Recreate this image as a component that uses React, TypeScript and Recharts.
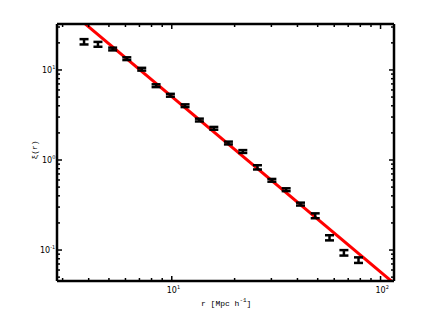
import React from "react";
import {
  ComposedChart,
  ErrorBar,
  Label,
  Line,
  Scatter,
  XAxis,
  YAxis,
} from "recharts";

// separation r [Mpc/h]
const rValues = [
  3.8, 4.43, 5.21, 6.09, 7.18, 8.41, 9.85, 11.58, 13.56, 15.9, 18.68, 21.89,
  25.73, 30.16, 35.31, 41.35, 48.64, 56.96, 66.76, 78.43,
];
// correlation function xi(r)
const xiValues = [
  20.6, 19.3, 17.1, 13.35, 10.2, 6.69, 5.24, 4.01, 2.78, 2.25, 1.545, 1.243,
  0.83, 0.595, 0.468, 0.324, 0.2405, 0.137, 0.0933, 0.0774,
];
const xiErrors = [
  1.4, 1.2, 0.6, 0.47, 0.36, 0.24, 0.19, 0.14, 0.1, 0.08, 0.055, 0.045, 0.045,
  0.021, 0.017, 0.012, 0.015, 0.009, 0.0065, 0.0055,
];

// power-law fit line end points
const fitR = [3.5, 120];
const fitXi = [39.1, 0.04];

const xTicks = [3, 4, 5, 6, 7, 8, 9, 10, 20, 30, 40, 50, 60, 70, 80, 90, 100];
const yTicks = [
  0.05, 0.06, 0.07, 0.08, 0.09, 0.1, 0.2, 0.3, 0.4, 0.5, 0.6, 0.7, 0.8, 0.9, 1,
  2, 3, 4, 5, 6, 7, 8, 9, 10, 20, 30,
];
const xLabelled: Record<number, string> = { 10: "1", 100: "2" };
const yLabelled: Record<number, string> = { 0.1: "-1", 1: "0", 10: "1" };

const points = rValues.map((r, i) => ({ r, xi: xiValues[i], err: xiErrors[i] }));
const fit = fitR.map((r, i) => ({ r, xi: fitXi[i] }));

const tickFont = "DejaVu Sans";
const isMajor = (v: number) => Math.abs(Math.log10(v) - Math.round(Math.log10(v))) < 1e-6;

function BottomTick(props: any) {
  const { x, y, payload } = props;
  const v = payload.value as number;
  const len = isMajor(v) ? 5 : 3;
  const sup = xLabelled[v];
  return (
    <g>
      <line x1={x} x2={x} y1={y} y2={y - len} stroke="#000" strokeWidth={1.5} />
      {sup && (
        <text x={x - 5} y={y + 12} fontSize={8} fontFamily={tickFont} fill="#000">
          10
          <tspan dy={-4} fontSize={5}>{sup}</tspan>
        </text>
      )}
    </g>
  );
}

function TopTick(props: any) {
  const { x, y, payload } = props;
  const len = isMajor(payload.value) ? 5 : 3;
  return <line x1={x} x2={x} y1={y} y2={y + len} stroke="#000" strokeWidth={1.5} />;
}

function LeftTick(props: any) {
  const { x, y, payload } = props;
  const v = payload.value as number;
  const len = isMajor(v) ? 5 : 3;
  const sup = yLabelled[v];
  return (
    <g>
      <line x1={x} x2={x + len} y1={y} y2={y} stroke="#000" strokeWidth={1.5} />
      {sup && (
        <text
          x={sup.length > 1 ? x - 17 : x - 15}
          y={y + 3}
          fontSize={8}
          fontFamily={tickFont}
          fill="#000"
        >
          10
          <tspan dy={-4} fontSize={5}>{sup}</tspan>
        </text>
      )}
    </g>
  );
}

function RightTick(props: any) {
  const { x, y, payload } = props;
  const len = isMajor(payload.value) ? 5 : 3;
  return <line x1={x} x2={x - len} y1={y} y2={y} stroke="#000" strokeWidth={1.5} />;
}

const noDot = () => <g />;

export default function App() {
  return (
    <div style={{ position: "absolute", left: 0, top: 0, background: "#fff" }}>
      <ComposedChart
        width={436}
        height={316}
        margin={{ top: 20, right: 38, bottom: 5, left: 17 }}
      >
        <XAxis
          xAxisId="b"
          dataKey="r"
          type="number"
          scale="log"
          domain={[2.82, 116]}
          allowDataOverflow
          ticks={xTicks}
          tick={<BottomTick />}
          tickLine={false}
          tickSize={0}
          tickMargin={0}
          height={30}
          axisLine={{ stroke: "#000", strokeWidth: 2.5 }}
          interval={0}
        >
          <Label
            content={() => (
              <text x={201} y={306} fontSize={8} fontFamily="Liberation Mono" fill="#000">
                r [Mpc h
                <tspan dy={-4} fontSize={6}>-1</tspan>
                <tspan dy={4}>]</tspan>
              </text>
            )}
          />
        </XAxis>
        <XAxis
          xAxisId="t"
          orientation="top"
          dataKey="r"
          type="number"
          scale="log"
          domain={[2.82, 116]}
          allowDataOverflow
          ticks={xTicks}
          tick={<TopTick />}
          tickLine={false}
          tickSize={0}
          tickMargin={0}
          height={4}
          axisLine={{ stroke: "#000", strokeWidth: 2.5 }}
          interval={0}
        />
        <YAxis
          yAxisId="l"
          type="number"
          scale="log"
          domain={[0.0453, 32.4]}
          allowDataOverflow
          ticks={yTicks}
          tick={<LeftTick />}
          tickLine={false}
          tickSize={0}
          tickMargin={0}
          width={40}
          axisLine={{ stroke: "#000", strokeWidth: 2.5 }}
          interval={0}
        >
          <Label
            content={() => (
              <text
                x={37}
                y={150}
                fontSize={8}
                fontFamily="Liberation Mono"
                fill="#000"
                textAnchor="middle"
                transform="rotate(-90 37 150)"
              >
                ξ(r)
              </text>
            )}
          />
        </YAxis>
        <YAxis
          yAxisId="r"
          orientation="right"
          type="number"
          scale="log"
          domain={[0.0453, 32.4]}
          allowDataOverflow
          ticks={yTicks}
          tick={<RightTick />}
          tickLine={false}
          tickSize={0}
          tickMargin={0}
          width={4}
          axisLine={{ stroke: "#000", strokeWidth: 2.5 }}
          interval={0}
        />
        <Line
          xAxisId="b"
          yAxisId="l"
          data={fit}
          dataKey="xi"
          type="linear"
          stroke="#ff0000"
          strokeWidth={3}
          dot={false}
          activeDot={false}
          isAnimationActive={false}
        />
        <Scatter
          xAxisId="b"
          yAxisId="l"
          data={points}
          dataKey="xi"
          shape={noDot}
          isAnimationActive={false}
        >
          <ErrorBar
            dataKey="err"
            direction="y"
            width={4.5}
            stroke="#000"
            strokeWidth={2.5}
            isAnimationActive={false}
          />
        </Scatter>
      </ComposedChart>
    </div>
  );
}
